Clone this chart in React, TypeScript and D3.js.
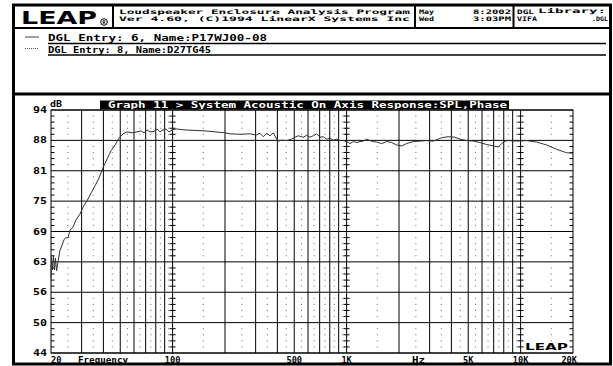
import React from "react";
import * as d3 from "d3";

const freqHz = [20, 20.13, 20.4, 20.67, 20.94, 21.22, 21.52, 21.95, 22.53, 22.83, 23.76, 24.23, 25.05, 25.73, 26.75, 27.85, 29.36, 30.54, 32.21, 33.96, 35.81, 37.76, 39.81, 41.98, 44.26, 46.67, 49.2, 51.88, 54.7, 58.42, 62.41, 65.81, 68.48, 71.25, 74.13, 78.16, 81.33, 84.62, 88.05, 91.62, 95.33, 99.18, 104.6, 117.8, 134.5, 153.5, 175.2, 200, 213.6, 244, 278.5, 297.6, 304.4, 317.9, 332.1, 347.4, 362.9, 379.1, 396.6, 405.1, 423.7, 452.5, 483.4, 505, 527.6, 563.6, 589.5, 615.8, 643.4, 673, 703.1, 734.5, 768.4, 802.7, 838.6, 877.2, 916.3, 957.3, 1001, 1046, 1093, 1143, 1194, 1247, 1304, 1363, 1424, 1489, 1591, 1700, 1816, 1940, 2072, 2214, 2416, 2640, 2885, 3149, 3364, 3520, 3841, 4196, 4483, 4898, 5346, 5841, 6383, 6966, 7443, 7785, 8133, 8497, 9496, 10840, 12374, 14125, 16121, 18404, 20000];
const splDb = [59.4, 63.8, 61.1, 64.0, 61.1, 63.5, 60.9, 62.7, 65.2, 65.6, 67.3, 67.7, 67.7, 69.3, 69.9, 71.4, 72.6, 74.0, 75.3, 76.9, 78.4, 80.0, 82.1, 83.9, 85.6, 86.8, 88.2, 89.1, 89.5, 89.3, 89.5, 89.7, 89.3, 89.9, 89.5, 89.6, 90.1, 89.5, 89.9, 90.1, 89.5, 89.9, 90.1, 89.9, 89.8, 89.7, 89.5, 89.3, 89.1, 89.0, 89.1, 88.9, 88.9, 89.2, 88.5, 89.2, 88.7, 89.3, 88.0, 87.6, 87.8, 87.7, 88.0, 88.4, 88.7, 88.4, 88.8, 88.4, 88.7, 89.1, 88.4, 88.5, 88.0, 88.2, 87.8, 88.0, 87.7, 87.7, 87.5, 87.1, 87.5, 87.3, 87.5, 87.6, 88.0, 87.7, 87.5, 87.4, 87.1, 87.5, 87.3, 86.8, 86.6, 87.1, 87.5, 87.6, 87.7, 87.6, 88.0, 88.3, 88.5, 88.4, 88.0, 87.7, 87.6, 87.3, 86.9, 86.6, 86.4, 87.1, 87.6, 87.7, 87.6, 87.7, 87.4, 86.8, 85.9, 85.2, 85.1];

const yTickLabels = ["94", "88", "81", "75", "69", "63", "56", "50", "44"];
const majorFreqs = [30, 40, 50, 60, 70, 80, 90, 100, 200, 300, 400, 500, 600, 700, 800, 900, 1000, 2000, 3000, 4000, 5000, 6000, 7000, 8000, 9000, 10000];
const dottedFreqs = [25, 35, 45, 55, 65, 75, 85, 95, 150, 250, 350, 450, 550, 650, 750, 850, 950, 1500, 2500, 3500, 4500, 5500, 6500, 7500, 8500, 9500, 15000];
const decadeFreqs = [100, 1000, 10000];
const xLabels = [
  { f: 20, t: "20", a: "start" },
  { f: 100, t: "100", a: "middle" },
  { f: 500, t: "500", a: "middle" },
  { f: 1000, t: "1K", a: "middle" },
  { f: 5000, t: "5K", a: "middle" },
  { f: 10000, t: "10K", a: "middle" },
  { f: 20000, t: "20K", a: "end" },
];

const MONO = "'DejaVu Sans Mono', 'Liberation Mono', monospace";

function T({ x, y, w, size, children, fill = "#000", anchor = "start" }: any) {
  return (
    <text
      x={x}
      y={y}
      fontFamily={MONO}
      fontWeight="bold"
      fontSize={size}
      fill={fill}
      textAnchor={anchor}
      textLength={w}
      lengthAdjust="spacingAndGlyphs"
    >
      {children}
    </text>
  );
}

export default function App() {
  const x = d3.scaleLog().domain([20, 20000]).range([51, 573]);
  const y = d3.scaleLinear().domain([44, 94]).range([353, 110]);
  const step = 50 / 8;
  const majorDb = yTickLabels.map((_, i) => 94 - i * step);
  const minorDb: number[] = [];
  for (let i = 0; i < 8; i++) for (let j = 1; j < 5; j++) minorDb.push(94 - (i + j / 5) * step);

  const line = d3
    .line<number>()
    .x((_, i) => x(freqHz[i]))
    .y((d) => y(d));

  const [x0, x1] = x.range();
  const [yb, yt] = y.range();
  const hs = 6.2;

  return (
    <svg width={613} height={366} style={{ position: "absolute", left: 0, top: 0, background: "#fff" }}>
      <rect x={0} y={0} width={613} height={366} fill="#fff" />
      {/* outer frame */}
      <rect x={13.5} y={5} width={597} height={359} fill="none" stroke="#000" strokeWidth={3} />
      {/* header */}
      <line x1={13} x2={611} y1={28} y2={28} stroke="#000" strokeWidth={2} />
      <line x1={113} x2={113} y1={5} y2={28} stroke="#000" strokeWidth={2} />
      <line x1={415} x2={415} y1={5} y2={28} stroke="#000" strokeWidth={2} />
      <line x1={513.5} x2={513.5} y1={5} y2={28} stroke="#000" strokeWidth={2} />
      <text x={21} y={24} fontFamily="'DejaVu Sans', sans-serif" fontWeight="900" fontSize={18.5} textLength={76} lengthAdjust="spacingAndGlyphs">LEAP</text>
      <circle cx={104} cy={22} r={3.3} fill="none" stroke="#000" strokeWidth={1} />
      <text x={104} y={24} fontFamily={MONO} fontWeight="bold" fontSize={5} textAnchor="middle">R</text>
      <T x={119} y={14} w={291} size={hs}>Loudspeaker Enclosure Analysis Program</T>
      <T x={119} y={21} w={291} size={hs}>Ver 4.60,  (C)1994 LinearX Systems Inc</T>
      <T x={419} y={14} w={15} size={hs}>May</T>
      <T x={473} y={14} w={38} size={hs}>8:2002</T>
      <T x={419} y={21} w={15} size={hs}>Wed</T>
      <T x={473} y={21} w={38} size={hs}>3:03PM</T>
      <T x={517} y={14} w={17} size={hs}>DGL</T>
      <T x={538} y={13} w={68} size={hs}>Library:</T>
      <T x={517} y={21} w={20} size={hs}>VIFA</T>
      <T x={592} y={21} w={16} size={hs}>.DGL</T>
      {/* legend */}
      <line x1={25} x2={39} y1={37} y2={37} stroke="#444" strokeWidth={1} />
      <line x1={25} x2={39} y1={48.5} y2={48.5} stroke="#555" strokeWidth={1} strokeDasharray="1,1" />
      <T x={48} y={41} w={219} size={8.5}>DGL Entry: 6, Name:P17WJ00-08</T>
      <T x={48} y={52.5} w={163} size={8.5}>DGL Entry: 8, Name:D27TG45</T>
      <line x1={48} x2={606} y1={43.5} y2={43.5} stroke="#000" strokeWidth={1.5} />
      <line x1={48} x2={606} y1={55} y2={55} stroke="#000" strokeWidth={1.5} />
      <line x1={13} x2={611} y1={94} y2={94} stroke="#000" strokeWidth={3} />
      {/* graph title */}
      <rect x={100} y={100.5} width={409} height={9} fill="#000" />
      <T x={108} y={108} w={399} size={8.5} fill="#fff">Graph 11 &gt; System Acoustic On Axis Response:SPL,Phase</T>
      <T x={50} y={107} w={12} size={8}>dB</T>
      {/* plot grid */}
      <g>
        {dottedFreqs.map((f) =>
          minorDb.map((d, k) => (
            <rect key={f + "-" + k} x={x(f) - 0.5} y={y(d) - 0.5} width={1} height={1} fill="#666" />
          ))
        )}
        {majorFreqs.map((f) => (
          <line key={"v" + f} x1={x(f)} x2={x(f)} y1={yt} y2={yb} stroke="#000" strokeWidth={1} />
        ))}
        {majorDb.map((d) => (
          <line key={"h" + d} x1={x0} x2={x1} y1={y(d)} y2={y(d)} stroke="#000" strokeWidth={1} />
        ))}
        {minorDb.map((d) => (
          <g key={"m" + d}>
            <line x1={x0} x2={x0 + 3.5} y1={y(d)} y2={y(d)} stroke="#000" strokeWidth={1} />
            <line x1={x1 - 3.5} x2={x1} y1={y(d)} y2={y(d)} stroke="#000" strokeWidth={1} />
            {decadeFreqs.map((f) => (
              <line key={f} x1={x(f) - 3} x2={x(f) + 3} y1={y(d)} y2={y(d)} stroke="#000" strokeWidth={1} />
            ))}
          </g>
        ))}
        <rect x={x0} y={yt} width={x1 - x0} height={yb - yt} fill="none" stroke="#000" strokeWidth={1} />
      </g>
      {/* curve */}
      <path d={line(splDb) || ""} fill="none" stroke="#333" strokeWidth={1} />
      {/* small logo */}
      <text x={525} y={350} fontFamily="'DejaVu Sans', sans-serif" fontWeight="900" fontSize={9} textLength={43} lengthAdjust="spacingAndGlyphs">LEAP</text>
      {/* y labels */}
      {yTickLabels.map((t, i) => (
        <T key={t + i} x={47} y={y(majorDb[i]) + 3} w={14} size={8} anchor="end">{t}</T>
      ))}
      {/* x labels */}
      {xLabels.map((l) => (
        <T key={l.t} x={l.a === "end" ? x(l.f) + 4 : x(l.f)} y={362.5} w={l.t.length * 5.2} size={8} anchor={l.a}>{l.t}</T>
      ))}
      <T x={78} y={362.5} w={50} size={8}>Frequency</T>
      <T x={412} y={362.5} w={13} size={8}>Hz</T>
    </svg>
  );
}
